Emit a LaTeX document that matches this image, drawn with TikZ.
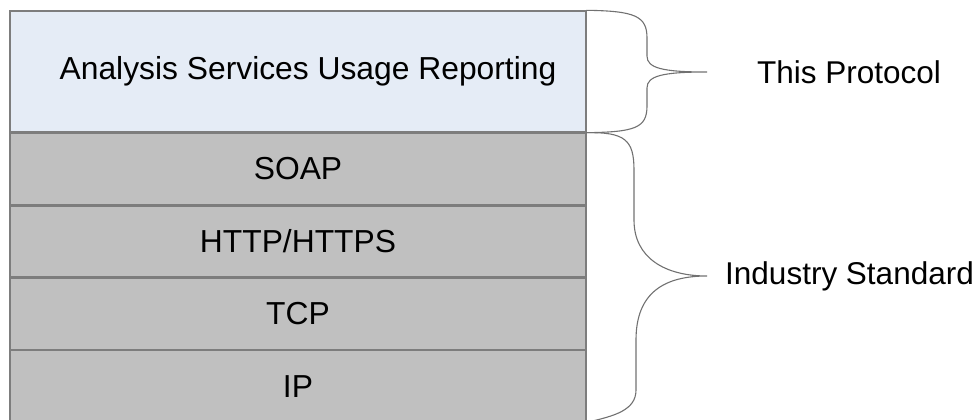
\documentclass[tikz,border=0pt]{standalone}
\usepackage{fontspec}
\setmainfont{Liberation Sans}
\usetikzlibrary{positioning}

\definecolor{protoblue}{RGB}{229,236,246}
\definecolor{stackgray}{RGB}{192,192,192}
\definecolor{edgegray}{RGB}{125,125,125}

\tikzset{
  layer/.style={draw=edgegray,line width=1.4pt,minimum width=576pt,inner sep=0pt,
    font=\fontsize{31.8}{38}\selectfont},
  stacklayer/.style={layer,fill=stackgray,minimum height=71pt},
  bracelabel/.style={anchor=west,inner sep=0pt,font=\fontsize{31.5}{38}\selectfont},
  bracepath/.style={draw=edgegray!90!black,line width=1.1pt}
}

\begin{document}
\begin{tikzpicture}[x=1pt,y=-1pt]
\useasboundingbox (0,0) rectangle (978,420);

\node[layer,fill=protoblue,minimum height=121pt] (usage) at (298,71.5) {\hspace*{20pt}Analysis Services Usage Reporting};
\node[stacklayer,below=0pt of usage] (soap) {SOAP};
\node[stacklayer,below=0pt of soap] (http) {HTTP/HTTPS};
\node[stacklayer,below=0pt of http] (tcp) {TCP};
\node[stacklayer,below=0pt of tcp] (ip) {IP};

\node[bracelabel] (thisproto) at (757,72) {This Protocol};
\node[bracelabel] (industry) at (725,276) {Industry Standard};

\coordinate (tipa) at (707,72);
\coordinate (tipb) at (707,276);

% brace over the protocol layer
\draw[bracepath] (usage.north east) .. controls (635,11) and (647,16) .. (647,38)
  -- (647,56) .. controls (647,68) and (662,72) .. (tipa)
  .. controls (662,72) and (647,76) .. (647,88)
  -- (647,106) .. controls (647,128) and (635,132) .. (usage.south east);

% brace over the standard layers
\draw[bracepath] (soap.north east) .. controls (625,132) and (634,140) .. (634,170)
  -- (634,220) .. controls (634,258) and (665,276) .. (tipb)
  .. controls (665,276) and (636,292) .. (636,340)
  -- (636,390) .. controls (636,410) and (615,416) .. (ip.south east);

\end{tikzpicture}
\end{document}
